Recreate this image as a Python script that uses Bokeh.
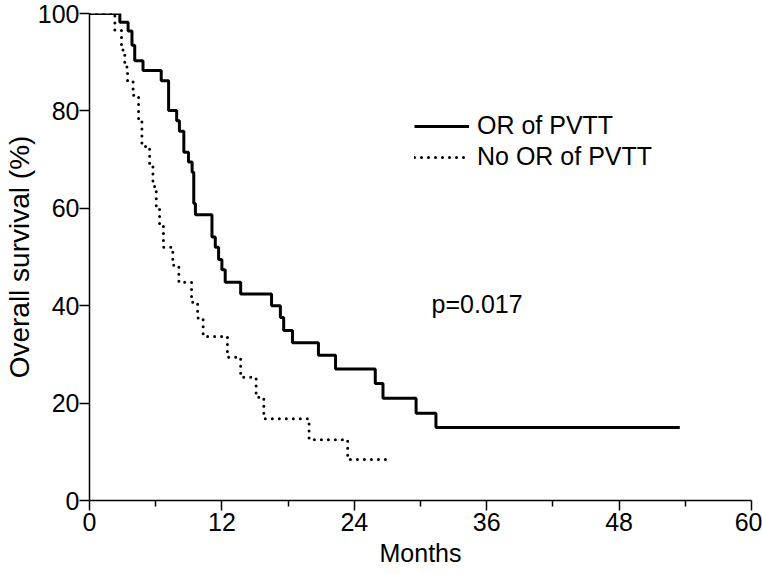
from bokeh.plotting import figure
from bokeh.models import FixedTicker, Legend, LegendItem, Label, Range1d
from bokeh.embed import file_html
from bokeh.resources import INLINE

# Kaplan-Meier curves (months, overall survival %)
or_months = [0, 2.75, 3.5, 3.85, 4.1, 4.85, 6.5, 7.17, 7.9, 8.15, 8.55, 8.97, 9.3, 9.45, 9.6,
             11.1, 11.4, 11.7, 12.0, 12.3, 13.7, 16.5, 17.3, 17.6, 18.4, 20.75, 22.3,
             25.9, 26.6, 29.6, 31.4, 53.5]
or_surv = [100, 98.2, 96.4, 93.5, 90.3, 88.3, 86.2, 80.1, 78.0, 75.8, 71.5, 69.5, 67.4, 61.0, 58.7,
           54.1, 52.0, 49.5, 47.4, 44.8, 42.4, 40.0, 37.6, 34.9, 32.4, 29.8, 27.0,
           24.0, 21.0, 17.9, 15.0, 15.0]

nor_months = [0, 2.3, 2.9, 3.2, 3.45, 3.95, 4.45, 4.75, 5.45, 5.75, 6.05, 6.35, 6.7, 7.55, 8.1,
              9.25, 9.8, 10.3, 12.5, 13.7, 15.1, 15.8, 19.9, 23.4, 27.2]
nor_surv = [100, 96.5, 92.5, 89.0, 86.2, 83.2, 78.0, 72.7, 68.5, 64.5, 60.5, 56.5, 52.0, 48.3, 44.8,
            40.7, 37.5, 33.7, 29.4, 25.3, 21.2, 16.8, 12.5, 8.4, 8.4]

x_ticks = [0, 12, 24, 36, 48, 60]
x_minor = [6, 18, 30, 42, 54]
y_ticks = [0, 20, 40, 60, 80, 100]
series_names = ["OR of PVTT", "No OR of PVTT"]
p_text = "p=0.017"

FONT = "Liberation Sans"

p = figure(width=762, height=574, output_backend="svg", toolbar_location=None,
           x_range=Range1d(0, 60), y_range=Range1d(0, 100),
           min_border_left=88, min_border_right=11, min_border_top=13, min_border_bottom=74)
p.outline_line_color = None
p.xgrid.visible = False
p.ygrid.visible = False
p.background_fill_color = "white"

r1 = p.step(or_months, or_surv, mode="after", line_color="black", line_width=3)
r2 = p.step(nor_months, nor_surv, mode="after", line_color="black", line_width=3,
            line_dash="0 7", line_cap="round")

for ax in (p.xaxis[0], p.yaxis[0]):
    ax.axis_line_color = "black"
    ax.axis_line_width = 1.5
    ax.major_tick_line_color = "black"
    ax.major_tick_line_width = 1.5
    ax.minor_tick_line_color = "black"
    ax.minor_tick_line_width = 1.5
    ax.major_tick_in = 0
    ax.major_tick_out = 10
    ax.minor_tick_in = 0
    ax.minor_tick_out = 6
    ax.major_label_text_font = FONT
    ax.major_label_text_font_size = "25px"
    ax.major_label_text_color = "black"
    ax.axis_label_text_font = FONT
    ax.axis_label_text_font_style = "normal"
    ax.axis_label_text_color = "black"

p.xaxis.ticker = FixedTicker(ticks=x_ticks, minor_ticks=x_minor)
p.yaxis.ticker = FixedTicker(ticks=y_ticks, minor_ticks=[])
p.xaxis.axis_label = "Months"
p.yaxis.axis_label = "Overall survival (%)"
p.xaxis.axis_label_text_font_size = "25px"
p.yaxis.axis_label_text_font_size = "28px"
p.xaxis.major_label_standoff = 2
p.yaxis.major_label_standoff = 0
p.xaxis.axis_label_standoff = 5
p.yaxis.axis_label_standoff = 0

legend = Legend(items=[LegendItem(label=series_names[0], renderers=[r1]),
                       LegendItem(label=series_names[1], renderers=[r2])],
                location=(325, 329), orientation="vertical",
                glyph_width=55, glyph_height=24, label_standoff=8, spacing=2,
                padding=0, margin=0, border_line_alpha=0, background_fill_alpha=0,
                label_text_font=FONT, label_text_font_size="25px", label_text_color="black")
p.add_layout(legend)

p.add_layout(Label(x=31, y=40.4, text=p_text, text_font=FONT, text_font_size="25px",
                   text_color="black", text_baseline="middle", text_align="left"))

open("out.html", "w").write(file_html(p, INLINE))
